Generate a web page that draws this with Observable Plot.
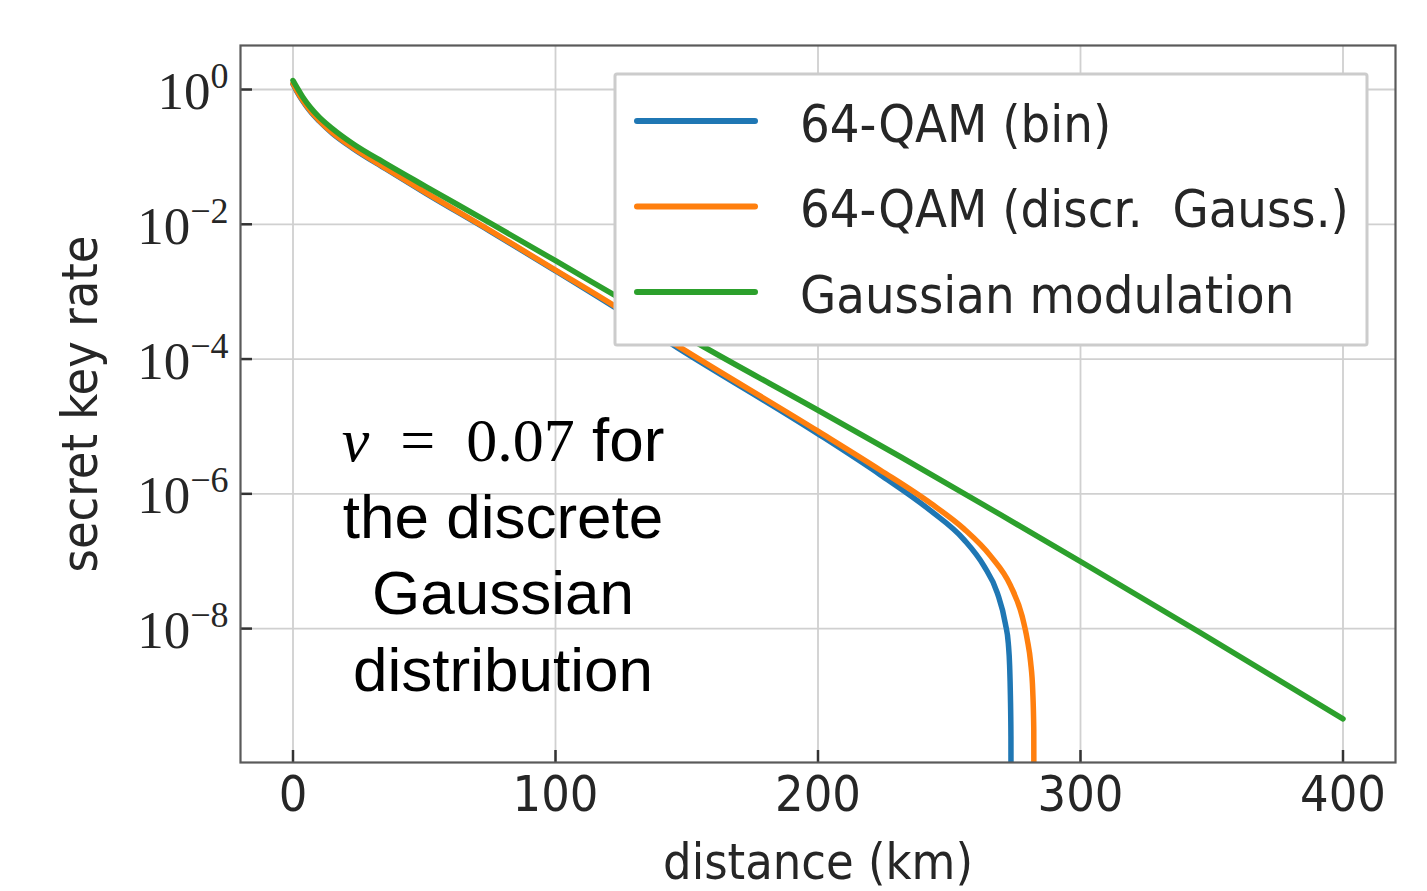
<!DOCTYPE html>
<html>
<head>
<meta charset="utf-8">
<script src="https://cdn.jsdelivr.net/npm/d3@7"></script>
<script src="https://cdn.jsdelivr.net/npm/@observablehq/plot@0.6"></script>
<style>
  html, body { margin: 0; padding: 0; background: white; }
  #chart svg { display: block; }
</style>
</head>
<body>
<div id="chart"></div>
<script>
// ---- data ----
const seriesNames = ["64-QAM (bin)", "64-QAM (discr.  Gauss.)", "Gaussian modulation"];
const seriesColors = ["#1f77b4", "#ff7f0e", "#2ca02c"];

const binDistance  = [0, 1.5, 3.7, 6.5, 10, 15, 22.7, 35.4, 50.6, 75, 100, 122, 146.4, 200, 223.8, 242.9, 255.6, 263.2, 268.3, 271.4, 272.5, 273.0, 273.3, 273.5, 273.6];
const binRate      = [1.20, 0.933, 0.676, 0.479, 0.339, 0.224, 0.135, 0.0661, 0.0288, 7.94e-3, 2.04e-3, 6.03e-4, 1.48e-4, 7.76e-6, 1.91e-6, 5.62e-7, 2.09e-7, 8.51e-8, 3.39e-8, 1.17e-8, 6.03e-9, 2.82e-9, 1.0e-9, 2.5e-10, 1e-13];

const discrDistance = [0, 1.5, 3.7, 6.5, 10, 15, 22.7, 35.4, 50.6, 75, 100, 122, 146.4, 200, 223.8, 242.9, 255.6, 265.7, 273.3, 277.8, 279.7, 281, 281.8, 282.2, 282.4];
const discrRate     = [1.23, 0.955, 0.692, 0.490, 0.347, 0.229, 0.138, 0.0676, 0.0295, 8.13e-3, 2.09e-3, 6.31e-4, 1.58e-4, 8.51e-6, 2.24e-6, 7.24e-7, 3.02e-7, 1.20e-7, 4.37e-8, 1.51e-8, 6.92e-9, 3.16e-9, 1.20e-9, 3.16e-10, 1e-13];

const gaussDistance = [0, 1.5, 3.7, 6.5, 10, 15, 22.7, 35.4, 50.6, 75, 100, 122, 156.6, 200, 231.4, 269.5, 300.7, 345.6, 400];
const gaussRate     = [1.36, 1.072, 0.776, 0.550, 0.389, 0.263, 0.158, 0.0794, 0.0363, 0.01047, 2.88e-3, 9.12e-4, 1.51e-4, 1.74e-5, 3.55e-6, 4.90e-7, 9.55e-8, 8.71e-9, 4.57e-10];

const xTicks = [0, 100, 200, 300, 400];
const yTicks = [1, 1e-2, 1e-4, 1e-6, 1e-8];

const xLabel = "distance (km)";
const yLabel = "secret key rate";
const annotationText = "ν = 0.07 for\nthe discrete\nGaussian\ndistribution";
const annotationX = 80;
const annotationY = 1.4e-7;

// ---- build tables ----
const toRows = (xs, ys, name) => xs.map((x, i) => ({distance: x, rate: ys[i], series: name}));
const tables = [
  toRows(binDistance, binRate, seriesNames[0]),
  toRows(discrDistance, discrRate, seriesNames[1]),
  toRows(gaussDistance, gaussRate, seriesNames[2])
];

const W = 1427, H = 891;
const mL = 240, mR = 32, mT = 45, mB = 129;
const plotW = W - mL - mR, plotH = H - mT - mB;

const sansCond = "'DejaVu Sans Condensed', 'DejaVu Sans', sans-serif";
const serif = "'Liberation Serif', 'DejaVu Serif', serif";

const chart = Plot.plot({
  width: W, height: H,
  marginLeft: mL, marginRight: mR, marginTop: mT, marginBottom: mB,
  style: {background: "white", overflow: "visible", color: "#262626"},
  x: {domain: [-20, 420], axis: null},
  y: {type: "log", domain: [1.03e-10, 4.5], axis: null},
  marks: [
    Plot.gridX(xTicks, {stroke: "#d0d0d0", strokeOpacity: 1, strokeWidth: 1.8}),
    Plot.gridY(yTicks, {stroke: "#d0d0d0", strokeOpacity: 1, strokeWidth: 1.8}),
    ...tables.map((t, i) => Plot.line(t, {
      x: "distance", y: "rate", stroke: seriesColors[i], strokeWidth: 5.5,
      curve: "monotone-x", clip: true, strokeLinecap: "round"
    })),
    Plot.tickX(xTicks, {x: d => d, insetTop: plotH - 12, stroke: "#333", strokeWidth: 2.5}),
    Plot.tickY(yTicks, {y: d => d, insetRight: plotW - 12, stroke: "#333", strokeWidth: 2.5}),
    Plot.frame({stroke: "#5a5a5a", strokeWidth: 2.2}),
    Plot.axisX(xTicks, {tickSize: 0, tickPadding: 13, label: null, fontSize: 50,
      fontFamily: sansCond, tickFormat: d => String(d)}),
    Plot.axisY(yTicks, {tickSize: 0, tickPadding: 12, label: null, fontSize: 53,
      fontFamily: serif, tickFormat: d => "10^" + Math.round(Math.log10(d))}),
    Plot.text([xLabel], {text: d => d, frameAnchor: "bottom", lineAnchor: "middle", textAnchor: "middle",
      dy: 100, fontSize: 50, fontFamily: sansCond, fill: "#262626"}),
    Plot.text([yLabel], {text: d => d, frameAnchor: "left", rotate: -90, dx: -160,
      textAnchor: "middle", lineAnchor: "middle",
      fontSize: 50, fontFamily: sansCond, fill: "#262626"}),
    Plot.text([annotationText], {text: d => d, x: () => annotationX, y: () => annotationY,
      fontSize: 62, lineHeight: 1.24, lineAnchor: "middle", textAnchor: "middle",
      fontFamily: "'Liberation Sans', Arial, sans-serif", fill: "black"})
  ]
});

document.getElementById("chart").appendChild(chart);
const svg = d3.select(chart);

// superscript exponents on y tick labels
svg.selectAll("text").each(function() {
  const t = d3.select(this);
  if (this.querySelector("tspan")) return;
  const s = t.text();
  const m = s.match(/^10\^(-?\d+)$/);
  if (!m) return;
  const e = m[1].replace("-", "\u2212");
  t.attr("dy", "0.05em");
  t.text(null);
  t.append("tspan").text("10");
  t.append("tspan").attr("dy", -21).attr("font-size", 36).text(e);
});

// mixed-font first line of annotation
svg.selectAll("text").each(function() {
  const first = this.querySelector("tspan");
  if (!first || first.textContent.indexOf("ν") < 0) return;
  const txt = first.textContent;
  const idx = txt.indexOf(" for");
  const t = d3.select(first);
  t.text(null);
  t.append("tspan").attr("font-family", serif).attr("font-style", "italic").text("ν");
  t.append("tspan").attr("font-family", serif)
    .text(txt.slice(1, idx).replace(/ = /, "\u2002=\u2002"));
  t.append("tspan").text(txt.slice(idx));
});

// legend
const lg = svg.append("g").attr("aria-label", "legend");
lg.append("rect").attr("x", 615).attr("y", 74).attr("width", 752).attr("height", 271)
  .attr("fill", "white").attr("stroke", "#cccccc").attr("stroke-width", 3).attr("rx", 2);
seriesNames.forEach((name, i) => {
  const yy = 121 + i * 85.5;
  lg.append("line").attr("x1", 637).attr("x2", 755).attr("y1", yy).attr("y2", yy)
    .attr("stroke", seriesColors[i]).attr("stroke-width", 6).attr("stroke-linecap", "round");
  lg.append("text").attr("x", 800).attr("y", yy).attr("dy", "0.4em")
    .attr("text-anchor", "start")
    .attr("font-family", sansCond).attr("font-size", 52).attr("fill", "#262626")
    .style("white-space", "pre").text(name);
});
</script>
</body>
</html>
